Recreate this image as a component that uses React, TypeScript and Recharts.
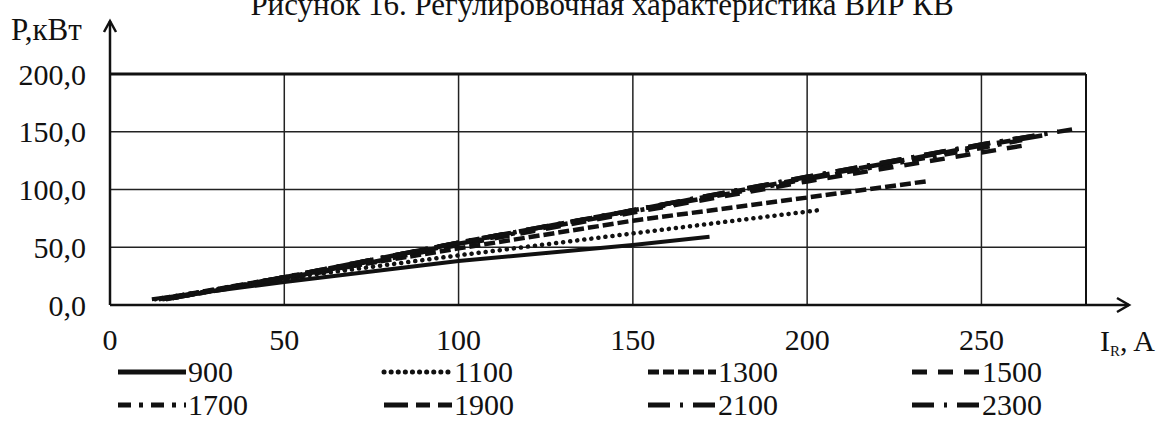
import React from 'react';
import { LineChart, Line, XAxis, YAxis, CartesianGrid, ReferenceLine } from 'recharts';

const W = 1164;
const H = 437;
const FONT = '"Liberation Serif", "Times New Roman", serif';

// current I_R, A  /  power P, kW  for each speed
const i900 = [12, 50, 100, 150, 172];
const p900 = [5, 20, 38, 52, 59];
const i1100 = [13, 50, 100, 150, 203];
const p1100 = [5, 23, 43, 62, 82];
const i1300 = [14, 50, 100, 150, 200, 234];
const p1300 = [5, 24, 49, 73, 93, 107];
const i1500 = [15, 50, 100, 150, 200, 250, 264];
const p1500 = [5, 22, 52, 80, 107, 132, 139];
const i1700 = [16, 50, 100, 150, 200, 250, 262];
const p1700 = [5, 23, 53, 81, 109, 136, 143];
const i1900 = [17, 50, 100, 150, 200, 250, 268];
const p1900 = [6, 24, 54, 82, 110, 138, 147];
const i2100 = [18, 50, 100, 150, 200, 250, 272];
const p2100 = [6, 24, 54, 82, 111, 139, 150];
const i2300 = [18, 50, 100, 150, 200, 250, 276];
const p2300 = [6, 24, 54, 82, 111, 139, 152];

const xTicks = [0, 50, 100, 150, 200, 250];
const yTicks = [0, 50, 100, 150, 200];

const toPoints = (xs: number[], ys: number[]) => xs.map((x, k) => ({ x, y: ys[k] }));

const series = [
  { name: '900', data: toPoints(i900, p900), dash: undefined, width: 4, cap: 'butt' },
  { name: '1100', data: toPoints(i1100, p1100), dash: '0.1 7', width: 4.5, cap: 'round' },
  { name: '1300', data: toPoints(i1300, p1300), dash: '11 4', width: 4.5, cap: 'butt' },
  { name: '1500', data: toPoints(i1500, p1500), dash: '15 11', width: 4.5, cap: 'butt' },
  { name: '1700', data: toPoints(i1700, p1700), dash: '13 8 4 8', width: 4.5, cap: 'butt' },
  { name: '1900', data: toPoints(i1900, p1900), dash: '24 8 14 8', width: 4.5, cap: 'butt' },
  { name: '2100', data: toPoints(i2100, p2100), dash: '22 10 3 10', width: 4.5, cap: 'butt' },
  { name: '2300', data: toPoints(i2300, p2300), dash: '22 10 3 10', width: 4.5, cap: 'butt' },
];

const legendCols = [118, 384, 648, 912];
const legendRows = [372, 405];

export default function App() {
  return (
    <div style={{ position: 'relative', width: W, height: H, background: '#fff', fontFamily: FONT }}>
      <style>{'body{margin:0}'}</style>
      <LineChart width={W} height={H} margin={{ top: 74, right: 78, left: 10, bottom: 82 }}>
        <CartesianGrid stroke="#222" strokeWidth={1.5} horizontalValues={yTicks} verticalValues={xTicks} />
        <XAxis
          type="number"
          dataKey="x"
          domain={[0, 280]}
          ticks={xTicks}
          allowDataOverflow
          height={50}
          axisLine={{ stroke: '#111', strokeWidth: 2.5 }}
          tickLine={false}
          tickSize={0}
          tickMargin={24}
          tick={{ fill: '#111', fontSize: 30, fontFamily: FONT }}
        />
        <YAxis
          type="number"
          dataKey="y"
          domain={[0, 200]}
          ticks={yTicks}
          width={100}
          axisLine={{ stroke: '#111', strokeWidth: 2.5 }}
          tickLine={false}
          tickSize={0}
          tickMargin={24}
          tickFormatter={(v: number) => v.toFixed(1).replace('.', ',')}
          tick={{ fill: '#111', fontSize: 30, fontFamily: FONT }}
        />
        <ReferenceLine y={200} stroke="#111" strokeWidth={3} />
        <ReferenceLine x={280} stroke="#111" strokeWidth={2} />
        {series.map((s) => (
          <Line
            key={s.name}
            data={s.data}
            dataKey="y"
            name={s.name}
            type="linear"
            stroke="#111"
            strokeWidth={s.width}
            strokeDasharray={s.dash}
            strokeLinecap={s.cap as any}
            dot={false}
            activeDot={false}
            isAnimationActive={false}
          />
        ))}
      </LineChart>

      <svg width={W} height={H} style={{ position: 'absolute', left: 0, top: 0, pointerEvents: 'none' }}>
        <text x={602} y={15} textAnchor="middle" fontSize={31} fontFamily={FONT} fill="#111">
          Рисунок 16. Регулировочная характеристика ВИР КВ
        </text>
        {/* y axis arrow */}
        <line x1={110} y1={74} x2={110} y2={21} stroke="#111" strokeWidth={2.5} />
        <polyline points="104,32 110,21 116,32" fill="none" stroke="#111" strokeWidth={2.5} />
        <text x={11} y={40} fontSize={31} fontFamily={FONT} fill="#111">
          P,кВт
        </text>
        {/* x axis arrow */}
        <line x1={1086} y1={305} x2={1129} y2={305} stroke="#111" strokeWidth={2.5} />
        <polyline points="1117,298 1129,305 1117,312" fill="none" stroke="#111" strokeWidth={2.5} />
        <text x={1100} y={351} fontSize={30} fontFamily={FONT} fill="#111">
          I<tspan fontSize={15} dy={5}>R</tspan><tspan dy={-5}>, A</tspan>
        </text>
        {/* legend */}
        {series.map((s, k) => {
          const x = legendCols[k % 4];
          const y = legendRows[Math.floor(k / 4)];
          return (
            <g key={s.name}>
              <line
                x1={x}
                y1={y}
                x2={x + 68}
                y2={y}
                stroke="#111"
                strokeWidth={5}
                strokeDasharray={s.dash}
                strokeLinecap={s.cap as any}
              />
              <text x={x + 70} y={y + 10} fontSize={30} fontFamily={FONT} fill="#111">
                {s.name}
              </text>
            </g>
          );
        })}
      </svg>
    </div>
  );
}
